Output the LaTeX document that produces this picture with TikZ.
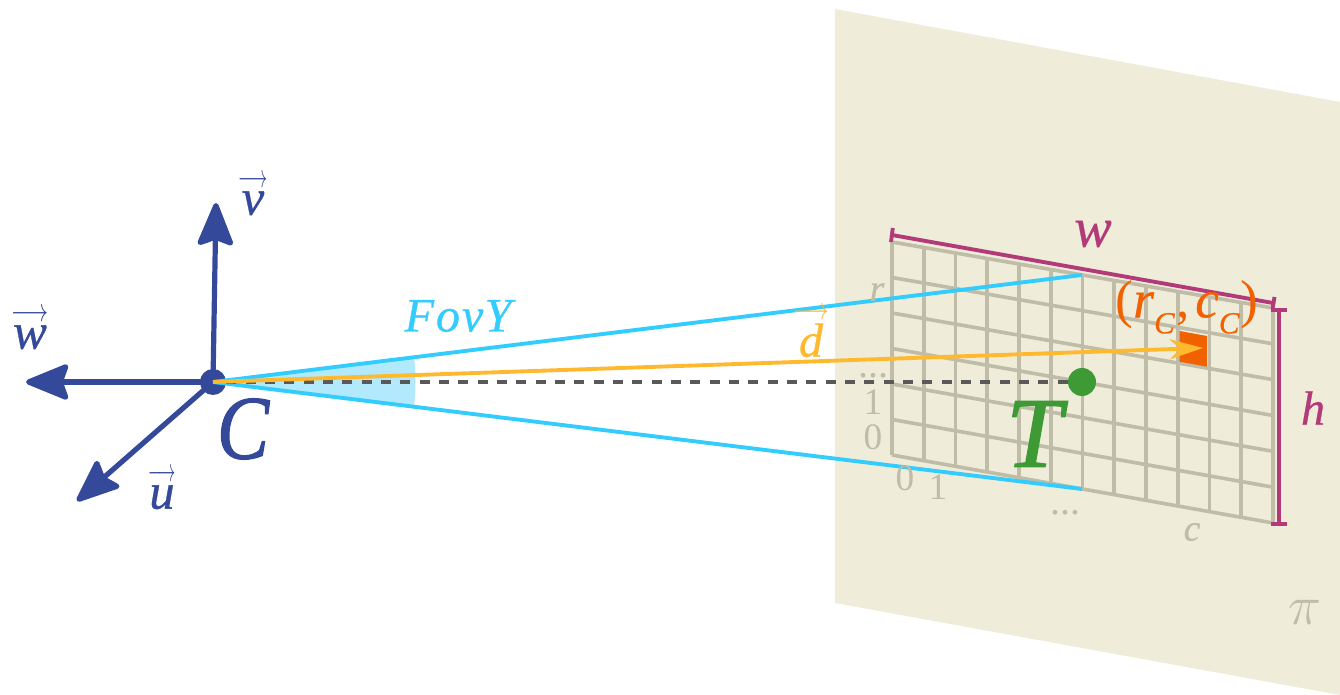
\documentclass[tikz,border=0pt]{standalone}
\usepackage{fix-cm}
\usepackage{graphicx}
\usepackage{fontspec}
\setmainfont[ItalicFeatures={FakeBold=0.6}]{Liberation Serif}
\newfontfamily\heavyfont[ItalicFeatures={FakeBold=1.4}]{Liberation Serif}
\usetikzlibrary{arrows.meta}
\definecolor{axisblue}{HTML}{34499A}
\definecolor{fovcyan}{HTML}{33CCFF}
\definecolor{wedge}{HTML}{B2E9FD}
\definecolor{diramber}{HTML}{FFB92F}
\definecolor{planecol}{HTML}{EFECDA}
\definecolor{gridcol}{HTML}{BFBDA8}
\definecolor{sizecol}{HTML}{B33A78}
\definecolor{pixcol}{HTML}{F26100}
\definecolor{targetcol}{HTML}{3D9A34}
\definecolor{dashcol}{HTML}{595959}
\newcommand{\fsz}[1]{\fontsize{#1}{#1}\selectfont}
\newsavebox{\letterbox}
\newlength{\letterw}
\newcommand{\vecl}[2][1.1]{\sbox{\letterbox}{\itshape #2}\setlength{\letterw}{#1\wd\letterbox}\leavevmode\ooalign{\hidewidth\usebox{\letterbox}\hidewidth\cr\raisebox{\dimexpr\ht\letterbox+.07em}{\resizebox{\letterw}{.24em}{$\longrightarrow$}}\cr}}
\newcommand{\subl}[1]{\raisebox{-.3em}{\fsz{23}\itshape #1}}
\tikzset{
  axis/.style={draw=axisblue,line width=3.9pt,-{Stealth[length=36pt,width=29pt,inset=5pt,round]}},
  fov/.style={draw=fovcyan,line width=2.9pt},
  gridline/.style={draw=gridcol,line width=2.7pt},
  sizeline/.style={draw=sizecol,line width=2.9pt},
  gridlabel/.style={text=gridcol,inner sep=0pt},
  bluelabel/.style={text=axisblue,inner sep=0pt},
  dot/.style={circle,inner sep=0pt,minimum size=#1}
}
\begin{document}
\begin{tikzpicture}[x=0.75pt,y=-0.75pt]
\useasboundingbox (0,0) rectangle (1340,695);
\fill[planecol] (835,9) -- (1340,102) -- (1340,695) -- (835,603) -- cycle;
% grid
\foreach \i in {0,...,12}{
  \draw[gridline] ({892+\i*31.75},{242+\i*5.5}) -- ({892+\i*31.75},{455+\i*5.667});
}
\foreach \j in {0,...,6}{
  \draw[gridline] (892,{242+\j*35.5}) -- (1273,{308+\j*35.83});
}
\fill[pixcol] (1179.7,331) -- (1207,336) -- (1207,366.7) -- (1179.7,361.7) -- cycle;
% fov wedge
\fill[wedge] (213,382) -- (414,357.5) .. controls (416,373) and (416,390) .. (414,406.5) -- cycle;
% named points
\node[dot=19.5pt,fill=axisblue] (C) at (213,382) {};
\node[dot=21pt,fill=targetcol] (T) at (1082,382) {};
\coordinate (fovtop) at (1082,275);
\coordinate (fovbot) at (1082,489);
\coordinate (dirend) at (1203,348);
\coordinate (wtip) at (26,382);
\coordinate (vtip) at (216,203);
\coordinate (utip) at (77,501);
\coordinate (ws) at (892,235); \coordinate (we) at (1273,303);
\coordinate (ws1) at (892.8,228); \coordinate (ws2) at (891,242);
\coordinate (we1) at (1274.5,297); \coordinate (we2) at (1272.5,309);
\coordinate (hs) at (1279,310); \coordinate (he) at (1279,524);
\coordinate (hs1) at (1271,310); \coordinate (hs2) at (1287,310);
\coordinate (he1) at (1271,524); \coordinate (he2) at (1287,524);
% axes
\draw[axis] (C.center) -- (wtip);
\draw[axis] (C.center) -- (vtip);
\draw[axis] (C.center) -- (utip);
% rays
\draw[fov] (C.center) -- (fovtop);
\draw[fov] (C.center) -- (fovbot);
\draw[draw=dashcol,line width=2.7pt,dash pattern=on 7.5pt off 7pt] (T.west) -- (C.center);
\draw[draw=diramber,line width=2.9pt,-{Stealth[length=25pt,width=15pt,inset=8pt]}] (C.center) -- (dirend);
% size marks
\draw[sizeline] (ws) -- (we);
\draw[sizeline] (ws1) -- (ws2);
\draw[sizeline] (we1) -- (we2);
\draw[sizeline] (hs) -- (he);
\draw[sizeline] (hs1) -- (hs2);
\draw[sizeline] (he1) -- (he2);
% labels
\node[bluelabel,font=\fsz{68}\heavyfont\itshape] (lC) at (243,429) {\scalebox{.86}[1]{C}};
\node[inner sep=0pt,text=targetcol,font=\fsz{75}\heavyfont\itshape] (lT) at (1034,434) {T};
\node[bluelabel,font=\fsz{38}] (lw) at (30,337) {\vecl{w}};
\node[bluelabel,font=\fsz{38}] (lv) at (253,203) {\vecl[1.3]{v}};
\node[bluelabel,font=\fsz{38}] (lu) at (162,497) {\vecl{u}};
\node[inner sep=0pt,text=fovcyan,font=\fsz{36}\itshape] (lf) at (458,316) {F\kern1.5pt o\kern1.5pt v\kern1pt Y};
\node[inner sep=0pt,text=diramber,font=\fsz{36}] (ld) at (811,340) {\vecl[1.5]{d}};
\node[inner sep=0pt,text=sizecol,font=\fsz{42}\itshape] (lww) at (1093,234) {w};
\node[inner sep=0pt,text=sizecol,font=\fsz{36}\itshape] (lh) at (1313,408) {h};
\node[inner sep=0pt,text=pixcol,font=\fsz{40}] (lp) at (1187,307) {(\textit{r}\subl{C}\kern1.5pt,\kern4pt\textit{c}\subl{C}\kern1pt)};
\node[gridlabel,font=\fsz{28}\itshape] at (877,292) {r};
\node[gridlabel,font=\fsz{30}] at (873,376) {...};
\node[gridlabel,font=\fsz{28}] at (873,402) {1};
\node[gridlabel,font=\fsz{28}] at (873,437) {0};
\node[gridlabel,font=\fsz{28}] at (905,478) {0};
\node[gridlabel,font=\fsz{28}] at (938,487) {1};
\node[gridlabel,font=\fsz{30}] at (1065,513) {...};
\node[gridlabel,font=\fsz{28}\itshape] at (1192,532) {c};
\node[gridlabel,font=\fsz{28}] at (1305,612) {\scalebox{1.5}{$\pi$}};
\end{tikzpicture}
\end{document}
